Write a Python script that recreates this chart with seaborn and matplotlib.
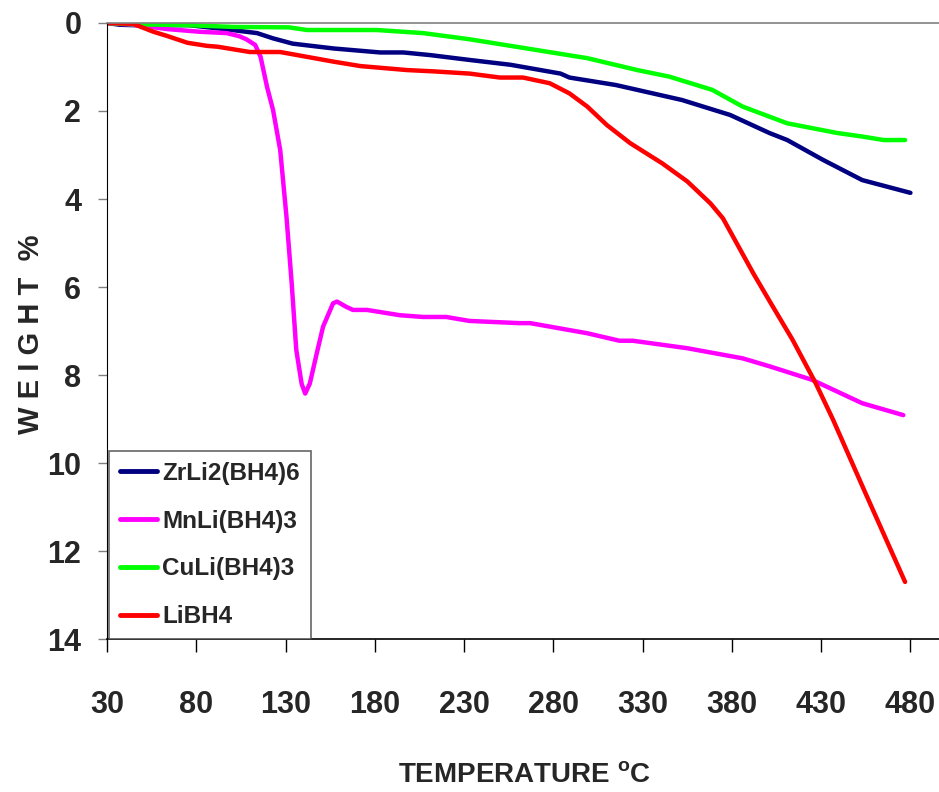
import numpy as np
import pandas as pd
import matplotlib
matplotlib.use("Agg")
import matplotlib.pyplot as plt
import seaborn as sns

sns.set_style("white")
plt.rcParams['font.family'] = ['Liberation Sans', 'DejaVu Sans']
plt.rcParams['mathtext.default'] = 'regular'

# series (temperature in C, weight loss in %)
zr_temp = [30, 37, 45, 76, 100, 114, 123, 134, 157, 183, 196, 211, 233, 256, 284, 289,
           315, 352, 379, 401, 411, 431, 453, 480]
zr_wt = [0.0, 0.04, 0.05, 0.05, 0.16, 0.23, 0.35, 0.47, 0.58, 0.67, 0.67, 0.73, 0.84,
         0.95, 1.15, 1.24, 1.41, 1.75, 2.09, 2.5, 2.66, 3.11, 3.57, 3.86]

mn_temp = [30, 45, 64, 82, 97, 104, 108, 113, 116, 119.6, 123, 127, 130.5, 133.4, 136,
           139, 141, 143.6, 147.5, 151, 156.6, 158.8, 164, 167.7, 175.6, 194, 207, 220,
           233, 261, 267, 299, 317, 324.5, 355, 386, 401, 425, 453, 476]
mn_wt = [0.0, 0.04, 0.14, 0.2, 0.23, 0.3, 0.37, 0.5, 0.77, 1.45, 1.98, 2.89, 4.4, 5.9,
         7.43, 8.2, 8.42, 8.19, 7.5, 6.9, 6.37, 6.33, 6.45, 6.52, 6.52, 6.64, 6.68, 6.68,
         6.77, 6.82, 6.82, 7.05, 7.22, 7.22, 7.39, 7.62, 7.8, 8.11, 8.64, 8.91]

cu_temp = [30, 45, 75, 101, 132, 142, 181, 207, 233, 299, 327, 345, 369, 386, 411, 439,
           453, 465, 477]
cu_wt = [0.0, 0.03, 0.05, 0.09, 0.1, 0.16, 0.16, 0.23, 0.37, 0.8, 1.07, 1.22, 1.52, 1.9,
         2.28, 2.5, 2.58, 2.66, 2.66]

li_temp = [30, 44.6, 56, 64, 75, 86, 92, 110, 127, 157, 172, 198, 213, 233, 250, 263,
           278, 289, 299, 310, 323, 341, 355, 368, 375, 392, 403, 414, 427, 436.5, 455,
           466, 477]
li_wt = [0.0, 0.02, 0.2, 0.3, 0.45, 0.52, 0.54, 0.66, 0.66, 0.88, 0.98, 1.07, 1.1, 1.15,
         1.24, 1.24, 1.37, 1.6, 1.9, 2.32, 2.73, 3.19, 3.6, 4.1, 4.44, 5.69, 6.45, 7.2,
         8.19, 9.0, 10.7, 11.7, 12.7]

names = ['ZrLi2(BH4)6', 'MnLi(BH4)3', 'CuLi(BH4)3', 'LiBH4']
colors = ['#000080', '#FF00FF', '#00FF00', '#FF0000']

frames = []
for name, t, w in zip(names, [zr_temp, mn_temp, cu_temp, li_temp],
                      [zr_wt, mn_wt, cu_wt, li_wt]):
    frames.append(pd.DataFrame({'temp': t, 'weight': w, 'sample': name}))
df = pd.concat(frames, ignore_index=True)

fig, ax = plt.subplots(figsize=(9.39, 7.92), dpi=100)
fig.subplots_adjust(left=0.114, right=1.0, top=0.971, bottom=0.193)

sns.lineplot(data=df, x='temp', y='weight', hue='sample', hue_order=names,
             palette=colors, estimator=None, linewidth=3.2, ax=ax)

ax.set_xlim(30, 496)
ax.set_ylim(14, 0)
ax.set_xticks(np.arange(30, 481, 50))
ax.set_yticks(np.arange(0, 15, 2))

ax.spines['right'].set_visible(False)
ax.spines['top'].set_color('#808080')
ax.spines['top'].set_linewidth(1.2)
ax.spines['left'].set_color('black')
ax.spines['bottom'].set_color('black')
ax.spines['bottom'].set_linewidth(1.2)

ax.tick_params(axis='x', direction='out', length=9.5, width=1, color='black',
               pad=27, labelsize=22, bottom=True)
ax.tick_params(axis='y', direction='out', length=6.5, width=1, color='#808080',
               pad=12, labelsize=22, left=True)
for lab in ax.get_xticklabels() + ax.get_yticklabels():
    lab.set_fontweight('bold')

ax.set_xlabel('TEMPERATURE $^{o}$C', fontsize=20, fontweight='bold')
ax.xaxis.set_label_coords(0.502, -0.2)
ax.set_ylabel('W E I G H T  %', fontsize=21, fontweight='bold')
ax.yaxis.set_label_coords(-0.075, 0.495)

leg = ax.legend(loc='lower left', bbox_to_anchor=(0.002, 0.0), borderaxespad=0,
                fancybox=False, frameon=True, handlelength=1.55, handletextpad=0.2,
                labelspacing=1.02, borderpad=0.45,
                prop={'size': 17.5, 'weight': 'bold'})
leg.get_frame().set_edgecolor('#404040')
leg.get_frame().set_linewidth(1.2)
for line in leg.get_lines():
    line.set_linewidth(3.5)

fig.savefig('out.png', dpi=100)
